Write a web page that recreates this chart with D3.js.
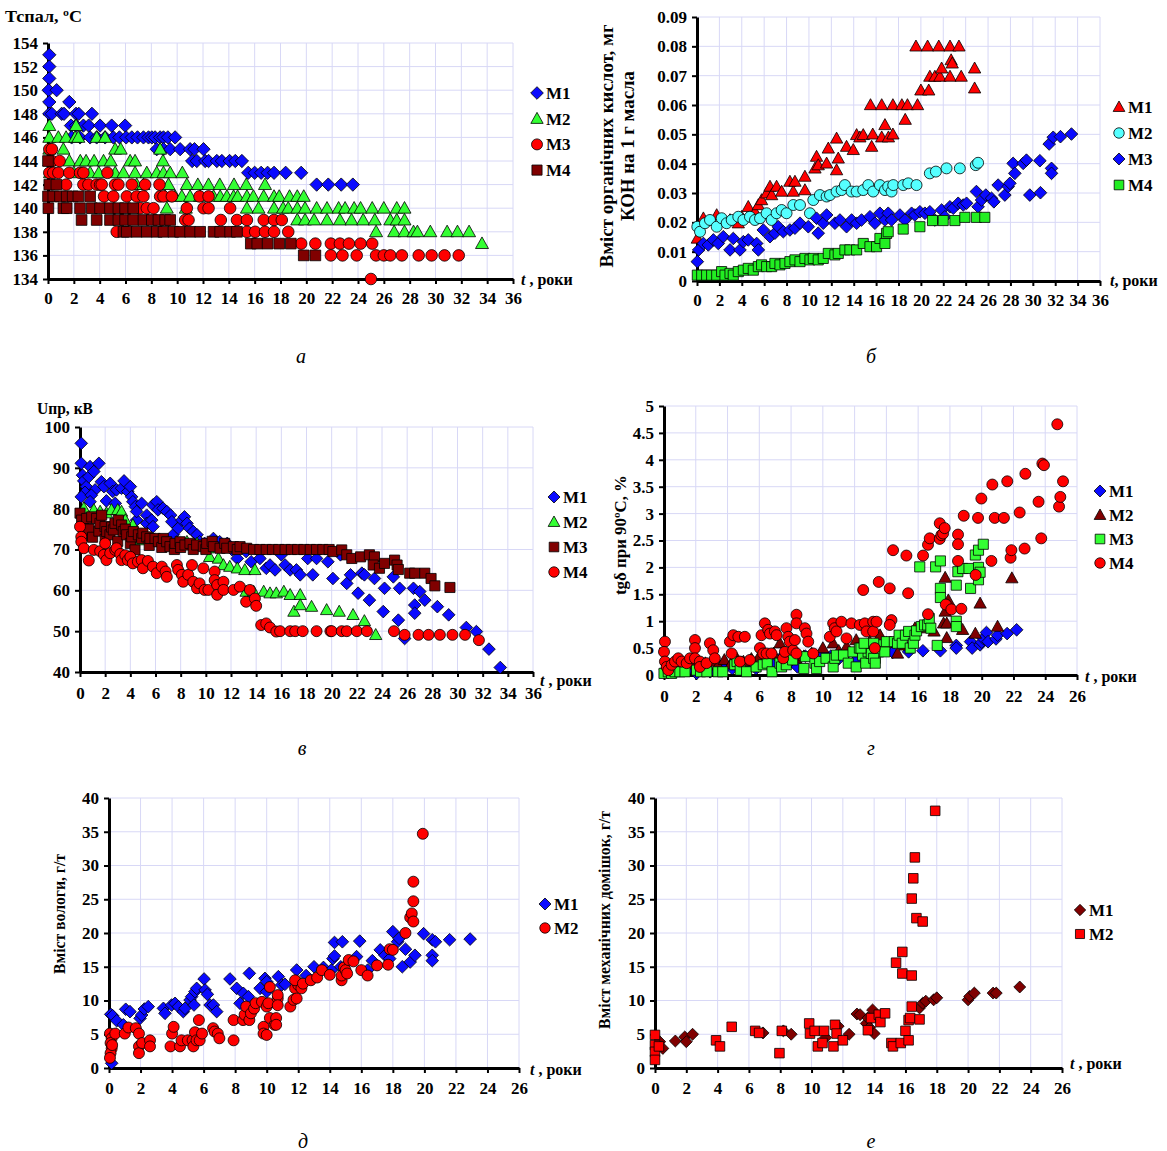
<!DOCTYPE html>
<html>
<head>
<meta charset="utf-8">
<script src="https://unpkg.com/d3@7.8.5/dist/d3.min.js"></script>
<style>
  body { margin: 0; background: #fff; }
  text { font-family: 'Liberation Serif', 'Times New Roman', serif; font-weight: bold; fill: #000; }
  .grid line { stroke: #d8d8f6; stroke-width: 1; }
  .axis path { stroke: #000; stroke-width: 3; }
  .axis line { stroke: #000; stroke-width: 2; }
  .axis text { font-size: 17px; }
  .mark { stroke: #000; stroke-width: 0.8; }
  .letter { font-style: italic; font-weight: normal; font-size: 20px; }
  .legend text { font-size: 17px; }
  .title { font-size: 16px; }
</style>
</head>
<body>
<script>
// ---------- а: temperature of flash ----------
const aXTicks = [0,2,4,6,8,10,12,14,16,18,20,22,24,26,28,30,32,34,36];
const aYTicks = [134,136,138,140,142,144,146,148,150,152,154];
const aM1 = [[0.1,153],[0.1,152],[0.1,151],[0.05,150],[0.67,150],[0.1,149],[1.65,149],
  [0.1,148],[0.3,148],[1.06,148],[1.24,148],[2.17,148],[2.38,148],[3.4,148],
  [1.78,147],[2.17,147],[2.74,147],[3.15,147],[4.03,147],[4.93,147],[5.97,147],
  [1.83,146],[2.48,146],[3.26,146],[3.77,146],[4.42,146],[5.06,146],[5.53,146],[6.05,146],[6.49,146],[6.93,146],[7.39,146],[7.78,146],[8.04,146],[8.29,146],[8.68,146],[8.94,146],[9.28,146],[9.84,146],
  [8.42,145],[8.94,145],[9.46,145],[10.23,145],[11.0,145],[11.34,145],[12.04,145],
  [11.16,144],[11.52,144],[12.17,144],[12.43,144],[13.07,144],[13.46,144],[14.06,144],[14.5,144],[15.01,144],
  [15.5,143],[16.0,143],[16.5,143],[17.0,143],[17.5,143],[18.4,143],[19.6,143],
  [20.8,142],[21.7,142],[22.7,142],[23.6,142]];
const aM2 = [[0.1,147],[2.17,147],
  [0.1,146],[0.8,146],[1.4,146],[2.1,146],[2.35,146],[3.77,146],[4.42,146],
  [0.1,145],[1.19,145],[5.2,145],[5.63,145],[8.68,145],
  [0.1,144],[1.65,144],[2.5,144],[2.95,144],[3.57,144],[4.3,144],[4.86,144],[6.36,144],[6.74,144],[8.9,144],
  [0.15,143],[2.0,143],[3.26,143],[3.93,143],[5.2,143],[5.84,143],[6.74,143],[7.65,143],[8.42,143],[8.94,143],[9.46,143],[10.4,143],
  [6.87,142],[7.39,142],[9.33,142],[10.75,142],[11.6,142],[12.43,142],[13.3,142],[14.4,142],[15.35,142],[16.8,142],
  [9.07,141],[9.84,141],[10.36,141],[11.0,141],[11.78,141],[12.82,141],[13.33,141],[13.85,141],[14.37,141],[14.68,141],[15.4,141],[15.9,141],[16.7,141],[17.5,141],[17.9,141],[18.7,141],[19.3,141],[19.8,141],
  [9.2,140],[10.67,140],[15.4,140],[16.3,140],[17.5,140],[18.2,140],[18.6,140],[19.3,140],[19.9,140],[20.8,140],[21.6,140],[22.5,140],[23.0,140],[23.7,140],[24.2,140],[25.1,140],[26.0,140],[27.0,140],[27.6,140],
  [19.3,139],[19.9,139],[20.6,139],[21.6,139],[22.6,139],[23.5,139],[24.4,139],[25.3,139],[26.5,139],[27.0,139],[27.6,139],
  [25.4,138],[26.8,138],[27.6,138],[28.3,138],[28.6,138],[29.6,138],[30.9,138],[31.7,138],[32.6,138],
  [33.6,137]];
const aM3 = [[0.1,145],[0.3,145],[0.1,144],[0.3,144],[0.9,144],
  [0.1,143],[0.41,143],[0.8,143],[1.65,143],[2.48,143],[2.74,143],[4.6,143],
  [1.4,142],[2.74,142],[3.13,142],[3.77,142],[4.03,142],[4.16,142],[5.19,142],[5.45,142],[6.49,142],[7.52,142],[8.63,142],
  [4.34,141],[5.06,141],[6.1,141],[6.87,141],[7.39,141],[8.68,141],[8.94,141],[9.59,141],[11.73,141],[12.43,141],
  [7.13,140],[7.65,140],[8.17,140],[10.75,140],[12.04,140],[12.43,140],[14.1,140],
  [10.62,139],[10.88,139],[13.38,139],[14.63,139],[15.4,139],[16.7,139],[17.5,139],[18.1,139],
  [5.32,138],[15.4,138],[16.04,138],[16.8,138],[17.5,138],[18.6,138],
  [19.6,137],[20.7,137],[21.9,137],[22.6,137],[23.3,137],[24.2,137],[25.1,137],
  [21.9,136],[22.8,136],[23.9,136],[25.4,136],[26.0,136],[26.5,136],[27.4,136],[28.7,136],[29.7,136],[30.7,136],[31.8,136],
  [25.0,134]];
const aM4 = [[0,144],[0.1,142],[0.65,142],
  [0,141],[0.41,141],[0.93,141],[1.45,141],[1.91,141],[2.35,141],[3.26,141],
  [0.03,140],[1.19,140],[1.45,140],[2.48,140],[3.39,140],[4.03,140],[4.8,140],[5.45,140],[5.97,140],[6.6,140],
  [2.6,139],[3.77,139],[4.8,139],[5.45,139],[5.97,139],[6.6,139],[7.39,139],[8.04,139],[8.55,139],[9.07,139],[9.46,139],
  [5.84,138],[6.1,138],[6.87,138],[7.65,138],[8.42,138],[8.94,138],[9.71,138],[10.23,138],[11.0,138],[11.78,138],[12.82,138],[13.33,138],[14.1,138],[14.63,138],
  [15.7,137],[16.2,137],[17.0,137],[17.9,137],[18.8,137],
  [19.8,136],[20.7,136]];

// ---------- б: organic acids ----------
const bXTicks = [0,2,4,6,8,10,12,14,16,18,20,22,24,26,28,30,32,34,36];
const bYTicks = [0,0.01,0.02,0.03,0.04,0.05,0.06,0.07,0.08,0.09];
const bM1 = [[0.03,0.0145],[0.57,0.0214],[1.76,0.0225],[2.95,0.0208],[3.69,0.0197],[3.99,0.0219],[4.58,0.0253],[5.18,0.0236],[5.48,0.0259],[5.77,0.0276],
  [6.22,0.0299],[6.52,0.0322],[6.67,0.0293],[7.11,0.0322],[7.56,0.0305],[8.3,0.0339],[8.6,0.0305],[8.75,0.0339],[9.64,0.031],[9.64,0.0356],
  [10.54,0.0384],[10.68,0.0424],[10.83,0.0395],[11.58,0.0401],[11.73,0.0452],[12.47,0.0378],[12.62,0.0418],[12.47,0.0486],[13.36,0.0458],[13.96,0.0447],
  [14.26,0.0498],[14.55,0.049],[14.85,0.0498],[15.6,0.0458],[15.7,0.05],[16.5,0.049],[16.79,0.0532],[17.1,0.049],[17.5,0.05],[18.6,0.055],
  [15.5,0.06],[16.5,0.06],[17.5,0.06],[18.3,0.06],[18.8,0.06],[19.7,0.06],
  [20.0,0.065],[20.7,0.065],[20.8,0.0697],[21.25,0.0697],[21.7,0.0697],[21.85,0.0725],[22.6,0.0697],[22.7,0.0753],[22.8,0.0742],[23.6,0.0697],
  [19.56,0.08],[20.6,0.08],[21.6,0.08],[22.6,0.08],[23.4,0.08],[24.8,0.0725],[24.8,0.0657]];
const bM2 = [[0.03,0.0185],[0.27,0.0168],[0.71,0.0197],[1.16,0.0208],[1.76,0.0185],[2.2,0.0214],[2.65,0.0197],[3.1,0.0208],[3.69,0.0219],[4.14,0.0208],
  [4.73,0.0219],[5.18,0.0208],[5.63,0.0214],[6.22,0.0231],[6.67,0.0208],[7.11,0.0231],[7.56,0.0242],[8.0,0.0231],[8.6,0.0259],[9.2,0.0259],
  [10.09,0.0231],[10.39,0.0276],[10.98,0.0293],[11.58,0.0288],[11.88,0.0293],[12.47,0.0305],[12.92,0.031],[13.21,0.0327],[13.81,0.0305],[14.26,0.0305],
  [14.85,0.031],[15.3,0.0327],[15.74,0.0305],[16.34,0.0327],[16.79,0.031],[17.08,0.0322],[17.38,0.0305],[17.53,0.0327],[18.42,0.0327],[18.87,0.0333],
  [19.61,0.0327],[20.8,0.0367],[21.34,0.0373],[22.29,0.0384],[23.48,0.0384],[24.9,0.0395],[25.11,0.0403]];
const bM3 = [[0.03,0.0066],[0.15,0.0106],[0.57,0.0128],[1.01,0.0123],[1.46,0.014],[1.9,0.0128],[2.35,0.0151],[2.95,0.0106],[3.24,0.0145],[3.84,0.0106],
  [4.14,0.0134],[4.58,0.014],[5.33,0.0128],[5.48,0.0106],[5.92,0.0174],[6.52,0.0151],[6.96,0.0163],[7.26,0.0185],[7.71,0.0168],[8.3,0.0174],
  [8.75,0.018],[9.2,0.0197],[9.94,0.0185],[10.68,0.0214],[10.83,0.0163],[11.28,0.0197],[11.58,0.0225],[12.32,0.0197],[12.77,0.0208],[13.36,0.0185],
  [13.81,0.0208],[14.26,0.0197],[14.7,0.0208],[15.45,0.0219],[15.89,0.0197],[16.34,0.0231],[16.79,0.0208],[17.08,0.0231],[17.38,0.0208],[18.13,0.0225],
  [18.57,0.0208],[19.17,0.0231],[19.46,0.0225],[19.91,0.0236],[20.36,0.0231],[20.8,0.0236],[21.25,0.0208],[21.85,0.0242],[22.14,0.0219],[22.59,0.0253],
  [22.89,0.0248],[23.33,0.0265],[23.78,0.0259],[24.08,0.0265],[24.96,0.0305],[25.11,0.0253],[25.42,0.0276],[25.8,0.0293],[26.31,0.0282],[26.52,0.027],
  [26.9,0.0327],[27.5,0.0293],[27.8,0.0322],[27.95,0.0333],[28.24,0.0401],[28.39,0.0367],[29.14,0.0401],[29.43,0.0412],[29.73,0.0293],[30.63,0.041],
  [30.68,0.0301],[31.46,0.0467],[31.67,0.0384],[31.67,0.0367],[31.82,0.049],[32.47,0.0492],[33.45,0.0501]];
const bM4 = [[0.03,0.002],[0.42,0.002],[0.86,0.002],[1.31,0.002],[1.76,0.002],[2.2,0.0032],[2.5,0.002],[2.95,0.0026],[3.24,0.002],[3.69,0.0032],
  [4.14,0.0037],[4.58,0.0043],[5.03,0.0037],[5.48,0.0049],[5.77,0.0055],[6.22,0.0049],[6.67,0.0049],[6.96,0.006],[7.41,0.0055],[7.86,0.006],
  [8.3,0.0066],[8.75,0.0072],[9.2,0.0066],[9.64,0.0077],[10.09,0.0072],[10.39,0.0077],[10.83,0.0072],[11.28,0.0077],[11.73,0.0094],[12.32,0.0089],
  [12.62,0.0094],[13.21,0.0106],[13.66,0.0106],[14.26,0.0106],[14.85,0.0128],[15.45,0.0117],[16.04,0.0117],[16.34,0.0145],[16.93,0.0162],[16.79,0.0128],
  [17.08,0.0168],[18.42,0.0177],[19.91,0.0185],[21.04,0.0206],[21.99,0.0206],[23.04,0.0206],[23.93,0.0217],[24.96,0.0217],[25.71,0.0217]];

// ---------- в: breakdown voltage ----------
const vXTicks = [0,2,4,6,8,10,12,14,16,18,20,22,24,26,28,30,32,34,36];
const vYTicks = [40,50,60,70,80,90,100];
const vM1 = [[0.1,96.0],[0.1,91.1],[0.2,88.2],[0.3,86.8],[0.5,85.4],[0.4,84.0],[0.1,82.9],[0.7,87.8],[0.8,90.3],[1.1,89.1],
  [1.5,91.1],[1.2,84.6],[0.9,83.3],[0.8,81.7],[1.7,86.6],[1.9,85.4],[2.4,86.2],[2.1,81.9],[2.6,84.2],[2.9,84.6],
  [2.8,81.3],[3.3,85.0],[3.5,86.8],[3.8,84.2],[4.0,85.4],[4.1,82.9],[4.2,81.7],[4.4,80.5],[4.5,77.2],[4.5,79.3],
  [4.9,81.3],[5.3,78.4],[5.3,76.4],[5.7,77.2],[5.8,75.6],[5.8,80.9],[6.1,81.7],[6.2,79.7],[6.6,80.1],[6.9,79.3],
  [7.2,78.4],[7.3,76.8],[7.4,73.6],[7.8,75.2],[8.1,77.2],[8.3,78.0],[8.5,76.4],[8.7,75.2],[9.0,74.4],[9.3,73.6],
  [9.5,71.9],[9.9,71.5],[10.6,72.7],[11.1,71.9],[11.7,71.5],[12.1,69.9],[12.5,67.8],[13.2,69.5],[13.6,67.0],[14.3,67.8],
  [14.8,65.4],[15.1,66.2],[15.5,65.0],[16.0,68.7],[16.3,66.2],[16.7,65.0],[17.2,65.0],[17.5,63.8],[18.1,67.8],[18.5,63.8],
  [18.8,67.8],[19.7,67.0],[20.1,62.9],[20.7,68.7],[21.2,61.7],[21.5,63.8],[22.1,59.3],[22.4,64.2],[22.6,63.8],[23.0,57.6],
  [23.4,62.9],[24.1,54.8],[24.2,60.5],[24.9,63.3],[25.3,52.7],[25.4,60.5],[25.8,48.2],[26.5,60.5],[26.6,56.4],[26.6,54.4],
  [27.0,59.7],[27.4,57.6],[28.4,56.0],[29.3,54.0],[30.7,50.9],[31.5,49.9],[32.5,45.6],[33.4,41.1]];
const vM2 = [[0.3,80.1],[1.1,79.7],[1.6,79.3],[2.1,78.9],[2.5,79.7],[3.0,79.7],[3.3,79.3],[3.6,77.2],[4.2,76.0],[4.8,72.3],
  [6.1,71.9],[6.9,71.9],[7.7,71.9],[8.5,71.9],[9.3,71.5],[10.2,70.3],[10.3,68.2],[11.0,67.8],[11.4,66.2],[11.9,65.8],
  [12.5,65.4],[13.1,65.0],[13.9,65.0],[13.2,59.7],[13.8,59.7],[14.6,59.7],[15.1,59.3],[15.6,59.3],[16.2,59.7],[16.7,58.9],
  [17.0,54.8],[17.5,58.9],[17.5,56.4],[18.4,56.0],[19.6,55.2],[20.6,54.8],[21.7,54.0],[22.6,52.5],[23.5,49.1]];
const vM3 = [[0,78.9],[0.13,77.2],[0.26,75.6],[0.3,73.5],[0.53,77.6],[0.7,75.0],[0.93,78.0],[1.0,73.0],[1.32,77.6],[1.5,74.5],
  [1.59,76.4],[1.72,78.4],[1.99,75.6],[2.0,72.5],[2.12,74.4],[2.38,73.6],[2.5,75.5],[2.65,74.8],[2.78,76.4],[3.0,72.0],
  [3.05,77.2],[3.31,76.0],[3.44,74.4],[3.6,75.0],[3.71,73.6],[4.0,71.5],[4.11,73.1],[4.24,74.4],[4.37,69.9],[4.64,73.6],
  [4.9,72.7],[5.0,74.0],[5.3,73.1],[5.5,71.0],[5.56,72.7],[5.96,72.7],[6.23,71.9],[6.5,70.5],[6.62,72.7],[6.89,71.9],
  [7.15,70.7],[7.5,70.0],[7.55,71.5],[7.95,71.9],[8.0,70.5],[8.34,71.1],[8.74,71.5],[9.0,70.0],[9.27,71.1],[9.8,70.7],
  [10.0,70.0],[10.07,71.5],[10.5,72.0],[10.6,70.7],[11.13,70.3],[11.5,71.5],[11.66,70.3],[12.19,70.7],[12.5,70.0],[12.72,70.7],
  [13.25,70.3],[13.8,70],[14.3,70],[14.8,70],[15.3,70],[15.8,70],[16.3,70],[16.8,70],[17.3,70],[17.8,70],
  [18.3,70],[18.8,70],[19.3,70],[19.8,70],[20.1,69.5],[20.8,69.9],[21.2,68.7],[21.6,67.8],[22.3,68.2],[23.0,68.7],
  [23.4,68.2],[23.3,66.2],[23.8,65.4],[24.2,66.6],[25.0,67.4],[25.2,66.2],[25.3,65.1],[26.2,64.2],[26.6,64.2],[27.4,64.2],
  [27.9,62.9],[28.2,61.1],[29.4,60.7]];
const vM4 = [[0,75.6],[0.1,73.1],[0.1,71.9],[0.3,70.3],[0.7,67.3],[1.1,69.9],[1.6,69.6],[1.9,68.7],[2.0,71.5],[2.1,67.4],
  [2.4,69.1],[2.8,69.9],[2.9,70.3],[3.2,68.9],[3.3,67.4],[3.6,68.6],[3.8,67.4],[4.0,68.2],[4.2,66.6],[4.6,67.0],
  [4.9,67.4],[5.0,65.4],[5.4,67.2],[5.8,65.8],[6.1,64.2],[6.5,65.8],[6.8,64.6],[6.9,63.3],[7.7,66.2],[7.8,65.0],
  [8.1,63.8],[8.2,62.1],[8.6,63.8],[8.9,66.2],[9.0,62.1],[9.3,60.5],[9.5,61.7],[9.8,65.4],[9.9,60.1],[10.2,60.1],
  [10.7,64.6],[10.7,62.5],[10.9,61.3],[10.9,58.9],[11.4,62.1],[11.4,60.1],[12.2,60.1],[12.7,60.9],[13.2,57.2],[13.5,60.1],
  [13.9,58.0],[14.0,56.2],[14.4,51.5],[14.8,51.9],[15.1,50.9],[15.6,49.9],[15.9,50],[16.7,50],[17.1,50],[17.7,50],
  [18.8,50],[19.9,50],[20.0,50],[20.8,50],[21.2,50],[22.0,50],[22.8,50],[24.95,50],[25.8,49.1],[26.9,49.1],
  [27.7,49.1],[28.6,49.1],[29.6,49.1],[30.6,49.1],[31.7,47.8]];

// ---------- г: tg delta ----------
const gXTicks = [0,2,4,6,8,10,12,14,16,18,20,22,24,26];
const gYTicks = [0,0.5,1,1.5,2,2.5,3,3.5,4,4.5,5];
const gM1 = [[0.1,0.1],[0.4,0.12],[0.8,0.15],[1.2,0.1],[1.6,0.12],[2.05,0.03],[2.5,0.15],[2.9,0.06],[3.4,0.2],[3.8,0.12],
  [4.3,0.12],[4.8,0.2],[5.2,0.12],[5.8,0.12],[6.3,0.25],[6.8,0.2],[7.3,0.3],[7.9,0.22],[8.4,0.15],[8.9,0.35],
  [9.4,0.3],[10.0,0.4],[10.5,0.35],[11.0,0.3],[11.5,0.4],[12.1,0.28],[12.6,0.4],[13.0,0.45],[13.5,0.43],[14.4,0.42],
  [15.4,0.43],[16.3,0.45],[17.4,0.45],[18.4,0.55],[18.4,0.5],[19.3,0.62],[19.4,0.5],[19.9,0.56],[20.0,0.61],[20.1,0.68],
  [20.3,0.79],[20.4,0.62],[20.9,0.67],[21.0,0.74],[21.6,0.77],[22.2,0.84]];
const gM2 = [[0.1,0.1],[0.3,0.15],[0.6,0.2],[0.9,0.22],[1.2,0.18],[1.5,0.25],[1.8,0.2],[2.2,0.15],[2.6,0.22],[3.0,0.25],
  [3.4,0.18],[3.8,0.28],[4.2,0.2],[4.6,0.3],[5.0,0.25],[5.5,0.3],[6.0,0.35],[6.4,0.25],[6.9,0.4],[7.3,0.59],
  [7.7,0.3],[8.3,0.31],[8.8,0.35],[9.3,0.4],[10.0,0.5],[10.65,0.59],[11.0,0.45],[11.5,0.53],[12.1,0.65],[12.5,0.46],
  [12.95,0.62],[13.4,0.52],[13.6,0.74],[14.0,0.6],[14.7,0.4],[15.2,0.55],[15.8,0.87],[16.6,0.87],[17.0,0.81],[17.6,0.96],
  [17.7,1.81],[17.8,0.96],[17.8,0.69],[17.9,1.39],[17.7,1.18],[18.8,0.84],[19.6,0.77],[19.9,1.33],[21.0,0.9],[21.9,1.8]];
const gM3 = [[0,0.03],[0.27,0.06],[0.48,0.03],[0.69,0.06],[1.0,0.06],[1.32,0.06],[2.05,0.09],[2.3,0.06],[2.7,0.06],[3.4,0.06],
  [3.7,0.06],[4.45,0.19],[4.6,0.25],[4.8,0.09],[5.2,0.06],[5.8,0.15],[6.25,0.19],[6.5,0.22],[6.8,0.06],[7.3,0.22],
  [7.4,0.15],[7.7,0.19],[8.1,0.28],[8.8,0.12],[8.9,0.34],[9.5,0.22],[9.6,0.12],[9.8,0.25],[10.2,0.31],[10.65,0.15],
  [10.75,0.31],[10.85,0.37],[11.3,0.37],[11.6,0.22],[11.9,0.43],[12.1,0.15],[12.3,0.5],[12.5,0.37],[12.7,0.22],[12.85,0.43],
  [13.05,0.4],[13.3,0.31],[13.4,0.56],[13.5,0.43],[12.4,0.5],[12.6,0.59],[13.2,0.59],[13.2,0.31],[13.3,0.22],[13.9,0.43],
  [14.0,0.62],[14.5,0.62],[14.7,0.59],[14.8,0.74],[15.0,0.59],[15.2,0.74],[15.4,0.81],[15.5,0.5],[15.7,0.59],[15.8,0.74],
  [15.9,0.82],[16.2,0.9],[16.4,0.93],[16.6,0.93],[16.7,1.05],[16.8,0.87],[17.2,0.55],[16.1,2.01],[17.1,2.01],[17.4,2.12],
  [17.4,1.61],[17.4,1.44],[18.4,1.0],[18.4,0.9],[18.4,1.67],[18.5,1.92],[18.8,1.98],[19.2,1.98],[19.3,1.61],[19.6,2.23],
  [19.8,2.32],[19.8,2.0],[19.8,1.77],[19.9,1.91],[20.1,2.43]];
const gM4 = [[0.06,0.62],[0,0.43],[0.06,0.25],[0.17,0.15],[0.27,0.09],[0.48,0.19],[0.69,0.25],[0.9,0.31],[1.11,0.25],[1.43,0.22],
  [1.64,0.31],[1.95,0.65],[1.95,0.5],[1.95,0.31],[2.26,0.25],[2.26,0.15],[2.68,0.22],[2.89,0.59],[3.1,0.46],[3.2,0.31],
  [4.15,0.62],[4.26,0.4],[4.36,0.74],[4.68,0.71],[4.78,0.25],[5.09,0.71],[5.41,0.28],[6.04,0.5],[6.14,0.74],[6.35,0.96],
  [6.25,0.4],[6.46,0.4],[6.56,0.84],[6.67,0.77],[6.77,0.4],[6.98,0.81],[7.09,0.74],[7.5,0.31],[7.61,0.43],[7.71,0.87],
  [7.82,0.71],[7.92,0.62],[8.13,0.46],[8.24,0.65],[8.34,1.12],[8.34,0.96],[8.34,0.4],[8.87,0.87],[8.97,0.77],[9.08,0.62],
  [9.39,0.4],[10.44,0.71],[10.65,0.96],[10.75,0.87],[10.86,0.81],[11.17,0.99],[11.49,0.68],[11.8,0.96],[12.33,0.93],[12.54,1.58],
  [12.64,0.96],[12.75,0.81],[13.17,0.99],[13.17,0.81],[13.27,0.5],[13.38,0.99],[13.52,1.73],[14.21,1.61],[14.42,2.32],[14.32,1.02],
  [14.21,0.93],[15.26,2.22],[15.37,1.52],[16.31,2.22],[16.62,1.13],[16.62,2.42],[16.73,2.54],[17.36,2.53],[17.46,2.6],[17.36,2.82],
  [17.57,2.63],[17.67,2.73],[17.74,1.31],[18.09,1.22],[18.51,2.61],[18.51,2.43],[18.51,2.12],[18.72,1.23],[18.87,2.96],[19.62,1.86],
  [19.77,2.92],[19.98,3.28],[20.61,2.12],[20.67,3.54],[20.82,2.92],[21.4,2.92],[21.61,3.6],[21.82,2.18],[21.87,2.32],[22.39,3.02],
  [22.7,2.35],[22.75,3.74],[23.58,3.22],[23.75,2.54],[23.82,3.93],[23.92,3.9],[24.76,4.66],[24.87,3.13],[24.95,3.31],[25.12,3.6]];

// ---------- д: moisture ----------
const dXTicks = [0,2,4,6,8,10,12,14,16,18,20,22,24,26];
const dYTicks = [0,5,10,15,20,25,30,35,40];
const dM1 = [[0.17,0.7],[0.11,7.95],[0.23,7.75],[0.49,7.0],[0.91,6.4],[1.06,8.7],[1.33,8.35],[1.97,7.36],[2.07,7.85],[2.24,8.74],
  [2.49,9.09],[3.45,8.84],[3.55,8.1],[3.97,9.33],[4.19,9.58],[4.4,9.09],[4.71,8.35],[4.82,8.84],[5.14,10.07],[5.24,10.57],
  [5.45,11.31],[5.39,9.33],[5.56,11.8],[6.03,13.19],[6.09,11.56],[6.24,10.91],[6.41,9.33],[6.62,9.33],[6.83,8.35],[7.67,13.19],
  [8.1,11.8],[8.31,9.58],[8.52,11.06],[8.84,10.57],[8.9,14.02],[9.58,11.8],[9.89,13.28],[10.0,12.79],[10.0,11.31],[10.11,9.33],
  [10.74,13.53],[10.95,12.3],[11.16,12.4],[11.9,14.52],[12.5,13.7],[13.0,15.0],[13.6,14.9],[14.1,14.5],[14.2,16.2],[14.3,18.6],
  [14.3,16.6],[14.8,18.7],[14.7,15.0],[15.7,16.5],[15.9,18.8],[16.4,14.5],[16.7,15.9],[17.2,17.5],[17.5,16.7],[17.8,16.2],
  [18.0,20.2],[18.3,18.7],[18.4,19.2],[18.8,17.6],[18.6,15.0],[19.1,15.7],[19.4,16.7],[19.95,19.9],[20.5,19.0],[20.5,16.7],
  [20.5,15.9],[20.7,18.7],[21.6,19.0],[22.9,19.1]];
const dM2 = [[0.06,5.1],[0.17,4.4],[0.1,3.7],[0.17,2.9],[0.1,2.2],[0.06,1.5],[0.2,3.4],[0.4,5.1],[1.0,5.1],[1.23,6.0],
  [1.7,5.9],[1.9,5.1],[1.9,3.2],[1.9,2.2],[2.1,3.7],[2.6,4.1],[2.6,3.2],[3.9,3.2],[4.0,5.1],[4.1,6.1],
  [4.5,3.2],[4.6,4.1],[5.0,4.1],[5.3,4.1],[5.35,3.2],[5.45,5.3],[5.55,4.1],[5.7,7.1],[5.75,4.1],[5.9,5.1],
  [6.6,5.9],[6.7,5.4],[6.9,5.1],[7.0,4.4],[7.9,7.1],[7.9,4.1],[8.5,7.1],[8.6,7.9],[8.7,9.1],[8.9,7.1],
  [9.0,8.1],[9.2,8.8],[9.3,9.6],[9.7,9.8],[9.8,6.1],[9.8,5.1],[10.0,4.9],[10.0,9.1],[10.1,9.6],[10.2,7.4],
  [10.2,12.0],[10.5,6.4],[10.6,7.4],[10.6,6.4],[10.7,10.3],[10.7,10.8],[10.7,9.3],[11.5,9.1],[11.7,10.1],[11.8,11.8],
  [11.9,12.8],[12.0,12.3],[11.8,13.0],[11.9,10.3],[12.2,11.8],[12.3,12.5],[12.8,13.0],[13.2,13.4],[13.5,14.5],[14.0,13.8],
  [14.75,13.0],[14.75,13.7],[14.9,14.9],[15.0,14.5],[15.1,14.0],[15.2,16.0],[15.5,15.8],[16.0,14.5],[16.4,13.7],[17.0,15.2],
  [17.7,15.3],[17.8,17.6],[18.0,17.5],[18.8,20.0],[19.1,22.3],[19.2,22.9],[19.3,21.7],[19.3,24.7],[19.3,27.6],[19.9,34.7]];

// ---------- е: mechanical impurities ----------
const eXTicks = [0,2,4,6,8,10,12,14,16,18,20,22,24,26];
const eYTicks = [0,5,10,15,20,25,30,35,40];
const eM1 = [[0.1,2.9],[0.3,3.9],[0.5,2.9],[1.3,4.0],[1.9,4.6],[2.0,3.9],[2.4,5.0],[6.9,5.2],[8.2,5.5],[8.7,5.0],
  [10.9,4.5],[11.7,6.2],[12.4,5.0],[12.9,8.0],[13.1,7.9],[13.5,6.6],[13.6,7.4],[13.7,6.0],[13.9,8.6],[14.0,5.1],
  [16.9,8.9],[17.1,9.6],[17.3,9.9],[17.8,10.1],[18.0,10.4],[20.0,10.1],[20.1,10.6],[20.4,11.1],[21.6,11.1],[21.8,11.1],
  [23.3,12.0]];
const eM2 = [[0,4.9],[0,3.4],[0,2.4],[0,1.2],[0.25,3.2],[3.9,4.1],[4.15,3.2],[4.9,6.1],[6.4,5.5],[6.65,5.2],
  [7.95,2.2],[8.1,5.5],[9.85,6.6],[9.9,5.1],[10.2,5.5],[10.4,3.2],[10.7,3.7],[10.8,5.5],[11.4,3.2],[11.5,6.4],
  [11.6,5.1],[12.0,4.1],[13.6,5.6],[13.8,7.4],[14.3,7.9],[14.4,6.8],[14.7,8.1],[15.1,3.7],[15.2,3.2],[15.4,15.6],
  [15.7,3.7],[15.8,14.0],[15.8,17.2],[16.0,5.5],[16.2,4.1],[16.2,7.1],[16.3,7.4],[16.4,13.7],[16.4,9.1],[16.4,25.1],
  [16.5,28.1],[16.6,31.2],[16.7,22.2],[16.9,7.2],[17.1,21.7],[17.9,38.1]];

const names4 = ['M1','M2','M3','M4'];
const names2 = ['M1','M2'];

const svg = d3.select('body').append('svg')
  .attr('width', 1167)
  .attr('height', 1151)
  .style('background', '#fff');

const marker = (shape, r) => {
  if (shape === 'circle') return d3.symbol(d3.symbolCircle, Math.PI * r * r)();
  if (shape === 'square') { const s = r * 0.92; return `M${-s},${-s}H${s}V${s}H${-s}Z`; }
  if (shape === 'triangle') return `M0,${-r * 1.15}L${r * 1.12},${r * 0.85}L${-r * 1.12},${r * 0.85}Z`;
  const k = r * 1.15;
  return `M0,${-k}L${k},0L0,${k}L${-k},0Z`;
};

const fmtTwo = d => d === 0 ? '0' : d3.format('.2f')(d);

const drawPanel = p => {
  const g = svg.append('g');
  const x = d3.scaleLinear().domain(p.xDomain).range(p.xRange);
  const y = d3.scaleLinear().domain(p.yDomain).range(p.yRange);

  g.append('g').attr('class', 'grid').selectAll('line')
    .data(p.xTicks.slice(1)).enter().append('line')
    .attr('x1', d => x(d)).attr('x2', d => x(d))
    .attr('y1', p.yRange[0]).attr('y2', p.yRange[1]);
  g.append('g').attr('class', 'grid').selectAll('line')
    .data(p.yTicks.slice(1)).enter().append('line')
    .attr('x1', p.xRange[0]).attr('x2', p.xRange[1])
    .attr('y1', d => y(d)).attr('y2', d => y(d));

  g.append('g').attr('class', 'axis')
    .attr('transform', `translate(0,${p.yRange[0]})`)
    .call(d3.axisBottom(x).tickValues(p.xTicks).tickSize(5).tickSizeOuter(0).tickPadding(p.xPad));
  g.append('g').attr('class', 'axis')
    .attr('transform', `translate(${p.xRange[0]},0)`)
    .call(d3.axisLeft(y).tickValues(p.yTicks).tickSize(5).tickSizeOuter(0).tickPadding(5).tickFormat(p.yFmt));
  g.selectAll('.axis').attr('font-family', null).attr('font-size', null);

  p.series.forEach(s => {
    g.append('g').selectAll('path')
      .data(s.data).enter().append('path')
      .attr('class', 'mark')
      .attr('transform', d => `translate(${x(d[0])},${y(d[1])})`)
      .attr('d', marker(s.shape, p.r))
      .style('fill', s.color);
  });

  const lg = g.append('g').attr('class', 'legend');
  p.series.forEach((s, i) => {
    const ly = p.legend.y + i * p.legend.dy;
    lg.append('path').attr('class', 'mark')
      .attr('transform', `translate(${p.legend.x},${ly})`)
      .attr('d', marker(s.shape, p.r * 0.95))
      .style('fill', s.color);
    lg.append('text').attr('x', p.legend.x + 9).attr('y', ly + 6).text(s.name);
  });

  const t = g.append('text').attr('x', p.tLabel[0]).attr('y', p.tLabel[1]).style('font-size', '16px');
  t.append('tspan').style('font-style', 'italic').text('t');
  t.append('tspan').text(p.tText);

  p.yTitle.lines.forEach((line, i) => {
    const tt = g.append('text').attr('class', 'title')
      .style('font-size', p.yTitle.size + 'px')
      .attr('lengthAdjust', 'spacingAndGlyphs')
      .attr('textLength', p.yTitle.len[i])
      .text(line);
    if (p.yTitle.rotate) {
      tt.attr('transform', `translate(${p.yTitle.x + i * p.yTitle.dx},${p.yTitle.y}) rotate(-90)`)
        .attr('text-anchor', 'middle');
    } else {
      tt.attr('x', p.yTitle.x).attr('y', p.yTitle.y);
    }
  });

  svg.append('text').attr('class', 'letter')
    .attr('x', p.letter[1]).attr('y', p.letter[2])
    .attr('text-anchor', 'middle').text(p.letter[0]);
};

const mk = (names, datas, shapes, colors) =>
  names.map((n, i) => ({name: n, data: datas[i], shape: shapes[i], color: colors[i]}));

drawPanel({
  xDomain: [0, 36], xRange: [48, 513], yDomain: [134, 154], yRange: [279, 43],
  xTicks: aXTicks, yTicks: aYTicks, yFmt: d3.format('d'), xPad: 8, r: 5.8,
  series: mk(names4, [aM1, aM2, aM3, aM4], ['diamond', 'triangle', 'circle', 'square'],
    ['#0a0aff', '#33ff33', '#ff0000', '#800000']),
  legend: {x: 537, y: 93, dy: 25.7},
  tLabel: [521, 285], tText: ' , роки',
  yTitle: {rotate: false, x: 5, y: 22, size: 16, len: [77], lines: ['Тспал, ºС']},
  letter: ['а', 301, 363]
});

drawPanel({
  xDomain: [0, 36], xRange: [697, 1100], yDomain: [0, 0.09], yRange: [281, 17],
  xTicks: bXTicks, yTicks: bYTicks, yFmt: fmtTwo, xPad: 8, r: 5.5,
  series: mk(names4, [bM1, bM2, bM3, bM4], ['triangle', 'circle', 'diamond', 'square'],
    ['#ff0000', '#55ffff', '#0a0aff', '#22ee22']),
  legend: {x: 1119, y: 107, dy: 26},
  tLabel: [1110, 286], tText: ',  роки',
  yTitle: {rotate: true, x: 613, dx: 21, y: 146, size: 18, len: [243, 150], lines: ['Вміст органічних кислот, мг', 'КОН на 1 г масла']},
  letter: ['б', 871, 363]
});

drawPanel({
  xDomain: [0, 36], xRange: [80, 533], yDomain: [40, 100], yRange: [672, 427],
  xTicks: vXTicks, yTicks: vYTicks, yFmt: d3.format('d'), xPad: 10, r: 5.5,
  series: mk(names4, [vM1, vM2, vM3, vM4], ['diamond', 'triangle', 'square', 'circle'],
    ['#0a0aff', '#33ff33', '#800000', '#ff0000']),
  legend: {x: 554, y: 497, dy: 25},
  tLabel: [540, 686], tText: ' , роки',
  yTitle: {rotate: false, x: 37, y: 414, size: 17, len: [56], lines: ['Uпр, кВ']},
  letter: ['в', 302, 755]
});

drawPanel({
  xDomain: [0, 26], xRange: [664, 1077], yDomain: [0, 5], yRange: [675, 406],
  xTicks: gXTicks, yTicks: gYTicks, yFmt: d => String(d), xPad: 10, r: 5.5,
  series: mk(names4, [gM1, gM2, gM3, gM4], ['diamond', 'triangle', 'square', 'circle'],
    ['#0a0aff', '#800000', '#33ff33', '#ff0000']),
  legend: {x: 1100, y: 491, dy: 24},
  tLabel: [1085, 682], tText: ' ,  роки',
  yTitle: {rotate: true, x: 626, dx: 0, y: 535, size: 16, len: [120], lines: ['tgδ при 90ºC, %']},
  letter: ['г', 871, 755]
});

drawPanel({
  xDomain: [0, 26], xRange: [109, 519], yDomain: [0, 40], yRange: [1068, 798],
  xTicks: dXTicks, yTicks: dYTicks, yFmt: d3.format('d'), xPad: 9, r: 5.5,
  series: mk(names2, [dM1, dM2], ['diamond', 'circle'], ['#0a0aff', '#ff0000']),
  legend: {x: 545, y: 904, dy: 24},
  tLabel: [530, 1075], tText: ' , роки',
  yTitle: {rotate: true, x: 65, dx: 0, y: 914, size: 16, len: [120], lines: ['Вміст вологи, г/т']},
  letter: ['д', 303, 1148]
});

drawPanel({
  xDomain: [0, 26], xRange: [655, 1062], yDomain: [0, 40], yRange: [1068, 798],
  xTicks: eXTicks, yTicks: eYTicks, yFmt: d3.format('d'), xPad: 9, r: 5.2,
  series: mk(names2, [eM1, eM2], ['diamond', 'square'], ['#800000', '#ff0000']),
  legend: {x: 1080, y: 910, dy: 24},
  tLabel: [1070, 1069], tText: ' , роки',
  yTitle: {rotate: true, x: 610, dx: 0, y: 920, size: 16, len: [218], lines: ['Вміст механічних домішок, г/т']},
  letter: ['е', 871, 1148]
});
</script>
</body>
</html>
